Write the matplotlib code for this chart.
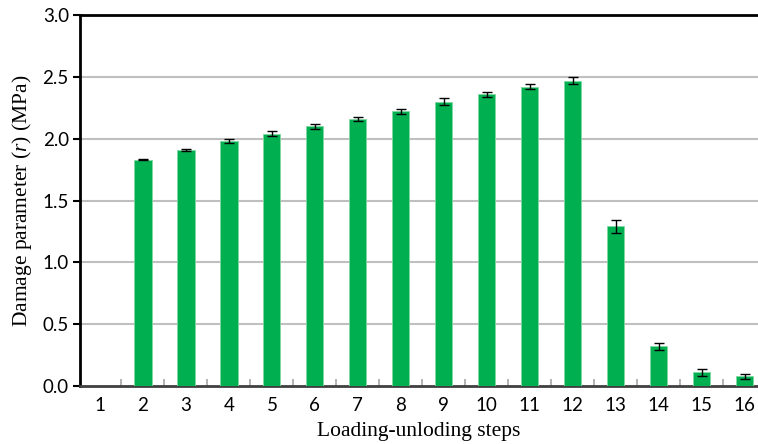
import numpy as np
import matplotlib.pyplot as plt

plt.rcParams['mathtext.fontset'] = 'custom'
plt.rcParams['mathtext.it'] = 'Liberation Serif:italic'
plt.rcParams['mathtext.rm'] = 'Liberation Serif'

# data
steps = list(range(1, 17))
values = [0.0, 1.83, 1.91, 1.98, 2.04, 2.10, 2.16, 2.22, 2.30, 2.36, 2.42, 2.47, 1.29, 0.32, 0.11, 0.08]
errors = [0.0, 0.005, 0.01, 0.015, 0.02, 0.02, 0.015, 0.02, 0.025, 0.02, 0.02, 0.025, 0.05, 0.03, 0.03, 0.02]
yticks = [0.0, 0.5, 1.0, 1.5, 2.0, 2.5, 3.0]

fig = plt.figure(figsize=(7.58, 4.44), dpi=100)
ax = fig.add_axes([0.1055, 0.1306, 0.894, 0.8356])

ax.bar(steps, values, width=0.4, color='#00B050', edgecolor='#7FD8A0', linewidth=0.6, zorder=3)
ax.errorbar(steps[1:], values[1:], yerr=errors[1:], fmt='none', ecolor='black',
            elinewidth=1.0, capsize=3.5, capthick=1.0, zorder=4)

ax.set_ylim(0, 3.0)
ax.set_xlim(0.535, 16.3)
ax.set_yticks(yticks)
ax.set_yticklabels([f"{v:.1f}" for v in yticks], fontname='Lato', fontsize=13.5)
ax.set_xticks(steps)
ax.set_xticklabels([str(s) for s in steps], fontname='Lato', fontsize=13.5)
ax.set_xticks(np.arange(1.5, 16.5, 1), minor=True)
ax.tick_params(axis='x', which='major', length=0, pad=8)
ax.tick_params(axis='x', which='minor', direction='in', length=5, color='#A6A6A6', width=1.2)
ax.tick_params(axis='y', which='major', direction='out', length=5, width=1.5, pad=3)

for y in yticks[1:-1]:
    ax.axhline(y, color='#BFBFBF', linewidth=1.5, zorder=1)

ax.spines['left'].set_linewidth(2.0)
ax.spines['top'].set_linewidth(2.0)
ax.spines['bottom'].set_linewidth(2.0)
ax.spines['bottom'].set_color('#404040')
ax.spines['right'].set_visible(False)

ax.set_xlabel('Loading-unloding steps', fontname='Liberation Serif', fontsize=15.5, labelpad=6)
ax.set_ylabel(r'Damage parameter ($\mathit{r}$) (MPa)', fontname='Liberation Serif', fontsize=15.5, labelpad=6)

fig.savefig('out.png', dpi=100)
